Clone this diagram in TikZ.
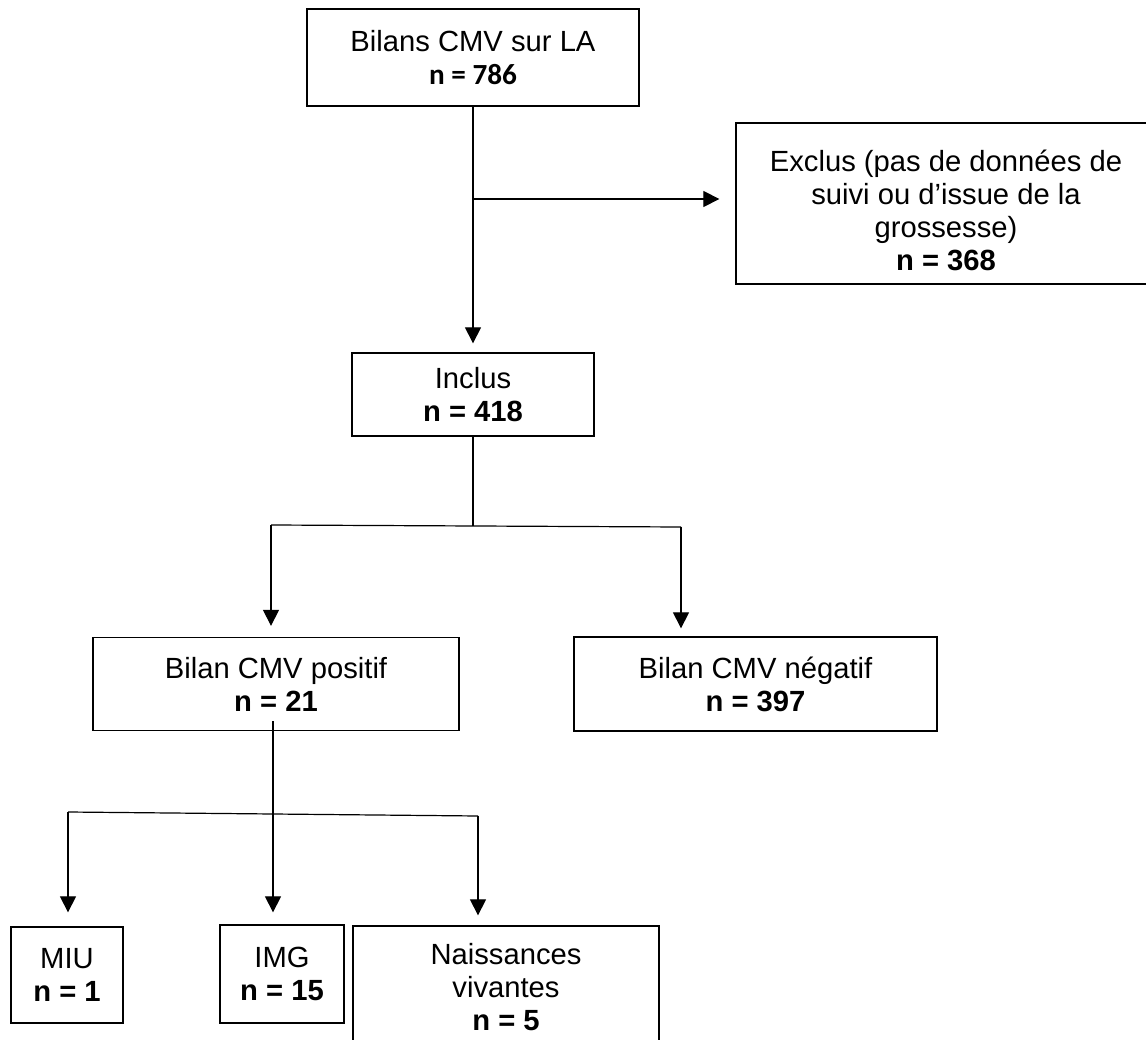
\documentclass[tikz,border=0pt]{standalone}
\usepackage{fontspec}
\setmainfont{Liberation Sans}
\newfontfamily\calib{Carlito}
\usetikzlibrary{arrows.meta,calc}
\tikzset{
  box/.style={draw=black, line width=1.3pt, inner sep=0pt, align=center,
    font=\fontsize{29.2}{33}\selectfont},
  link/.style={line width=1.2pt, draw=black},
  arr/.style={link, -{Triangle[width=16pt,length=16pt]}}
}
\begin{document}
\begin{tikzpicture}[x=1pt,y=-1pt]
\useasboundingbox (0,0) rectangle (1146,1040);
\fill[white] (0,0) rectangle (1146,1040);

\node[box, minimum width=332pt, minimum height=97pt] (b1) at (473,57.5)
  {Bilans CMV sur LA\\{\calib\bfseries n = 786}};
\node[box, minimum width=420pt, minimum height=161pt] (excl) at (946,203.5)
  {\rule{0pt}{35pt}Exclus (pas de données de\\suivi ou d’issue de la\\grossesse)\\\textbf{n = 368}};
\node[box, minimum width=242pt, minimum height=83pt] (incl) at (473,394.5)
  {Inclus\\\textbf{n = 418}};
\node[box, minimum width=366pt, minimum height=93pt] (pos) at (276,684)
  {Bilan CMV positif\\\textbf{n = 21}};
\node[box, minimum width=363pt, minimum height=94pt] (neg) at (755.5,684)
  {Bilan CMV négatif\\\textbf{n = 397}};
\node[box, minimum width=112pt, minimum height=96pt] (miu) at (67,975)
  {MIU\\\textbf{n = 1}};
\node[box, minimum width=124pt, minimum height=98pt] (img) at (282,974)
  {IMG\\\textbf{n = 15}};
\node[box, minimum width=306pt, minimum height=122pt] (nv) at (506,987)
  {Naissances\\vivantes\\\textbf{n = 5}};

% top trunk
\coordinate (j1) at (473,199);
\draw[arr, shorten >=9pt] (b1.south) -- (incl.north);
\draw[arr, shorten >=16pt] (j1) -- (j1 -| excl.west);

% Inclus split
\coordinate (j2) at (473,526);
\coordinate (bl) at (271,525);
\coordinate (br) at (681,527);
\draw[link] (incl.south) -- (j2);
\draw[link] (bl) -- (br);
\draw[arr, shorten >=11pt] (bl) -- (bl |- pos.north);
\draw[arr, shorten >=8pt] (br) -- (br |- neg.north);

% positive split
\coordinate (p0) at (273,721);
\coordinate (j3) at (273,814);
\coordinate (cl) at (68,812);
\coordinate (cr) at (478,816);
\draw[link] (p0) -- (j3);
\draw[link] (cl) -- (cr);
\draw[arr, shorten >=14pt] (cl) -- (cl |- miu.north);
\draw[arr, shorten >=12pt] (j3) -- (j3 |- img.north);
\draw[arr, shorten >=10pt] (cr) -- (cr |- nv.north);
\end{tikzpicture}
\end{document}
